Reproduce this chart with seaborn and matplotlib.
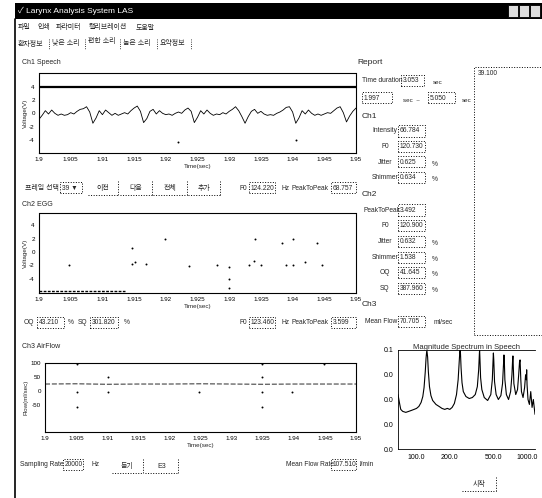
import matplotlib
matplotlib.use("Agg")
import matplotlib.pyplot as plt
import seaborn as sns
from matplotlib.patches import Rectangle
from matplotlib.lines import Line2D

W, H = 542, 498

# -------------------------
# Data
# -------------------------

time_ticks = [1.9, 1.905, 1.91, 1.915, 1.92, 1.925, 1.93, 1.935, 1.94, 1.945, 1.95]
time_tick_labels = ["1.9", "1.905", "1.91", "1.915", "1.92", "1.925", "1.93", "1.935", "1.94", "1.945", "1.95"]

# Ch1 speech, one sample every 0.5 ms from 1.900 to 1.950 s
ch1_speech = [
    -0.9, -0.3, 0.4, -0.1, 0.5, 0.0, -0.3, -0.1, -0.3, -0.2,
    0.1, -0.1, 0.3, 0.6, 0.7, 1.0, 0.2, -1.5, -0.7, 0.4,
    -0.2, 0.5, 0.1, -0.3, 0.0, -0.3, -0.1, 0.1, -0.1, 0.4,
    0.8, 1.1, 0.3, -1.4, -0.8, 0.3, 0.6, -0.1, 0.4, 0.0,
    -0.2, -0.1, -0.3, 0.0, 0.2, 0.0, 0.5, 0.8, 0.3, -1.4,
    -0.6, 0.4, -0.1, 0.5, 0.0, -0.3, -0.1, -0.2, 0.1, -0.1,
    0.3, 0.6, 1.0, 0.4, -0.5, -1.5, -0.5, 0.3, 0.6, 0.0,
    0.3, -0.1, -0.3, -0.2, -0.3, 0.0, 0.2, 0.5, 0.9, 1.0,
    0.2, -1.5, -0.7, 0.4, -0.1, 0.5, 0.0, -0.3, -0.1, -0.3,
    -0.1, 0.1, 0.0, 0.4, 0.8, 1.0, 0.1, -1.3, -0.4, 0.3,
    0.8,
]
ch1_time = [1.9 + 0.0005 * i for i in range(len(ch1_speech))]
ch1_level = 4.0
ch1_dot_t = [1.922, 1.9405]
ch1_dot_v = [-4.3, -4.0]

# Ch2 EGG: only scattered samples are visible
ch2_t = [1.9047, 1.9147, 1.9147, 1.9152, 1.9169, 1.9199, 1.9237, 1.9280, 1.9300, 1.9300,
         1.9300, 1.9331, 1.9339, 1.9341, 1.9350, 1.9383, 1.9390, 1.9400, 1.9400, 1.9420,
         1.9439, 1.9447]
ch2_v = [-2.0, 0.6, -1.8, -1.5, -1.8, 2.0, -2.1, -2.0, -2.2, -4.0,
         -5.3, -2.0, -1.4, 2.0, -2.0, 1.4, -2.0, -2.0, 2.0, -1.5,
         1.3, -2.0]
ch2_edge_t = [1.900, 1.9135]
ch2_edge_v = [-5.8, -5.8]

# Ch3 air flow
ch3_t = [1.900, 1.905, 1.910, 1.915, 1.920, 1.925, 1.930, 1.935, 1.940, 1.945, 1.950]
ch3_flow = [25, 26, 24, 25, 25, 26, 25, 24, 25, 25, 25]
ch3_dot_t = [1.9051, 1.9101, 1.9051, 1.9101, 1.9248, 1.9349, 1.9349, 1.9349, 1.9397, 1.9449, 1.9051, 1.9349]
ch3_dot_v = [95, 50, -3, -3, -3, 95, 50, -3, -3, 95, -57, -57]

# magnitude spectrum
spec_freq = [68, 70, 72, 75, 80, 85, 90, 95, 100, 105, 110, 114, 117, 120, 122, 124, 126, 128, 131, 135,
             140, 150, 160, 170, 180, 190, 200, 210, 220, 230, 238, 243, 246, 248, 250, 253, 258, 265, 280, 300,
             320, 340, 355, 365, 370, 372, 374, 380, 390, 410, 440, 470, 485, 492, 496, 500, 508, 525, 550, 580,
             600, 612, 618, 622, 630, 650, 680, 710, 730, 740, 745, 750, 760, 790, 820, 840, 855, 865, 870, 878,
             890, 920, 950, 970, 985, 992, 1000, 1020, 1050, 1080, 1110, 1140, 1180]
spec_mag = [0.055, 0.047, 0.040, 0.038, 0.037, 0.038, 0.039, 0.040, 0.041, 0.043, 0.047, 0.053, 0.062, 0.078, 0.092, 0.100, 0.093, 0.078, 0.063, 0.054,
            0.049, 0.045, 0.043, 0.041, 0.040, 0.041, 0.040, 0.042, 0.046, 0.055, 0.070, 0.087, 0.097, 0.100, 0.096, 0.082, 0.067, 0.058, 0.053, 0.051,
            0.052, 0.055, 0.063, 0.080, 0.095, 0.100, 0.094, 0.072, 0.060, 0.052, 0.049, 0.055, 0.070, 0.088, 0.097, 0.090, 0.068, 0.055, 0.050, 0.054,
            0.066, 0.085, 0.095, 0.092, 0.070, 0.055, 0.050, 0.058, 0.075, 0.090, 0.094, 0.085, 0.066, 0.055, 0.060, 0.075, 0.088, 0.090, 0.082, 0.070,
            0.058, 0.052, 0.062, 0.075, 0.070, 0.080, 0.065, 0.050, 0.045, 0.058, 0.042, 0.050, 0.035]
spec_xticks = [100, 200, 500, 1000]
spec_xlabels = ["100.0", "200.0", "500.0", "1000.0"]
spec_yticks = [0.0, 0.025, 0.05, 0.075, 0.1]
spec_ylabels = ["0.0", "0.0", "0.0", "0.0", "0.1"]

menu_items = ["파일", "인쇄", "파라미터", "캘리브레이션", "도움말"]
menu_x = [18, 37, 56, 89, 136]
tab_items = ["환자정보", "낮은 소리", "편한 소리", "높은 소리", "요약정보"]
tab_x = [18, 52, 88, 123, 160]
tab_sep_x = [49, 85, 120, 157, 191]

ch1_labels = ["Intensity", "F0", "Jitter", "Shimmer"]
ch1_values = ["66.784", "120.730", "0.625", "0.634"]
ch1_units = ["", "", "%", "%"]
ch2_labels = ["PeakToPeak", "F0", "Jitter", "Shimmer", "OQ", "SQ"]
ch2_values = ["3.492", "120.900", "0.632", "1.538", "41.645", "387.960"]
ch2_units = ["", "", "%", "%", "%", "%"]


sns.set_style("white")
plt.rcParams['font.family'] = ['Liberation Sans', 'Noto Sans CJK KR']
plt.rcParams['axes.unicode_minus'] = False

fig = plt.figure(figsize=(W / 100, H / 100), dpi=100)


def box_axes(x0, y0, x1, y1):
    return fig.add_axes([x0 / W, 1 - y1 / H, (x1 - x0) / W, (y1 - y0) / H])


def txt(x, y, s, size=5, ha='left', **kw):
    fig.text(x / W, 1 - y / H, s, fontsize=size, ha=ha, va='center', **kw)


def rect(x0, y0, x1, y1, ls=':', lw=0.7, fc=None, ec='black'):
    fig.add_artist(Rectangle((x0 / W, 1 - y1 / H), (x1 - x0) / W, (y1 - y0) / H,
                             transform=fig.transFigure, fill=fc is not None,
                             facecolor=fc if fc else 'none', edgecolor=ec, ls=ls, lw=lw))


def seg(x0, y0, x1, y1, **kw):
    fig.add_artist(Line2D([x0 / W, x1 / W], [1 - y0 / H, 1 - y1 / H], transform=fig.transFigure, **kw))


def field(x0, x1, y, s, size=4.8):
    rect(x0, y - 5.5, x1, y + 5.5)
    txt(x0 + 1.5, y, s, size)


def button(x0, x1, y, s):
    txt((x0 + x1) / 2, y, s, size=5, ha='center')
    seg(x0, y + 7, x1, y + 7, color='black', lw=0.7, ls=':')
    seg(x1, y - 7, x1, y + 7, color='black', lw=0.7, ls=':')


def style_channel(ax, ylim, yticks, ylabel):
    ax.set_xlim(1.9, 1.95)
    ax.set_ylim(*ylim)
    ax.set_xticks(time_ticks)
    ax.set_xticklabels(time_tick_labels, fontsize=4.5)
    ax.set_yticks(yticks)
    ax.set_yticklabels([str(v) for v in yticks], fontsize=4.5)
    ax.set_xlabel("Time(sec)", fontsize=4.5, labelpad=1)
    ax.set_ylabel(ylabel, fontsize=4.5, labelpad=1)
    for sp in ax.spines.values():
        sp.set_linestyle((0, (2, 1)))
        sp.set_linewidth(0.8)
        sp.set_color('black')
    ax.tick_params(length=2, width=0.5, pad=1, direction='out', colors='black')


# -------------------------
# Window frame
# -------------------------

rect(15, 3, 542, 19, ls='-', lw=0, fc='black')
txt(18, 11, "\u2713 Larynx Analysis System LAS", size=6, color='white')
for bx in [508, 519, 530]:
    rect(bx, 5, bx + 10, 17, ls='-', lw=0.6, fc='#dddddd')
seg(15, 19, 15, 498, color='black', lw=1.2)

for x, item in zip(menu_x, menu_items):
    txt(x, 28, item, size=5)

for x, item in zip(tab_x, tab_items):
    txt(x, 44 if item != "편한 소리" else 42, item, size=5)
for x in tab_sep_x:
    seg(x, 39, x, 49, color='black', lw=0.6, ls=':')

# -------------------------
# Ch1 Speech
# -------------------------

txt(22, 62, "Ch1 Speech", size=5)
ax1 = box_axes(39, 73, 356, 153)
sns.lineplot(x=ch1_time, y=ch1_speech, ax=ax1, color='black', lw=0.6)
ax1.axhline(ch1_level, color='black', lw=1.6)
sns.scatterplot(x=ch1_dot_t, y=ch1_dot_v, ax=ax1, s=2, color='black', linewidth=0)
style_channel(ax1, (-6, 6.1), [-4, -2, 0, 2, 4], "Voltage(V)")

txt(25, 188, "프레임 선택", size=5)
rect(60, 182, 82, 193)
txt(62, 188, "39 \u25bc", size=4.8)
button(88, 118, 188, "이전")
button(120, 152, 188, "다음")
button(153, 187, 188, "전체")
button(188, 220, 188, "추가")
txt(240, 188, "F0", size=4.8)
field(249, 275, 188, "124.220")
txt(282, 188, "Hz", size=4.8)
txt(292, 188, "PeakToPeak", size=4.8)
field(331, 356, 188, "68.757")

# -------------------------
# Ch2 EGG
# -------------------------

txt(22, 204, "Ch2 EGG", size=5)
ax2 = box_axes(39, 213, 356, 293)
sns.scatterplot(x=ch2_t, y=ch2_v, ax=ax2, s=2, color='black', linewidth=0)
sns.lineplot(x=ch2_edge_t, y=ch2_edge_v, ax=ax2, color='black', lw=1.0, ls=(0, (2, 1)))
style_channel(ax2, (-6.1, 5.8), [-4, -2, 0, 2, 4], "Voltage(V)")

txt(24, 322, "OQ", size=4.8)
field(37, 64, 322, "43.210")
txt(68, 322, "%", size=4.8)
txt(78, 322, "SQ", size=4.8)
field(90, 118, 322, "301.820")
txt(124, 322, "%", size=4.8)
txt(240, 322, "F0", size=4.8)
field(249, 275, 322, "123.460")
txt(282, 322, "Hz", size=4.8)
txt(292, 322, "PeakToPeak", size=4.8)
field(331, 356, 322, "3.599")

# -------------------------
# Ch3 AirFlow
# -------------------------

txt(22, 346, "Ch3 AirFlow", size=5)
ax3 = box_axes(45, 363, 356, 432)
sns.lineplot(x=ch3_t, y=ch3_flow, ax=ax3, color='0.35', lw=0.9, ls=(0, (4, 1.5)))
sns.scatterplot(x=ch3_dot_t, y=ch3_dot_v, ax=ax3, s=2, color='black', linewidth=0)
style_channel(ax3, (-146, 100), [-50, 0, 50, 100], "Flow(ml/sec)")

txt(20, 464, "Sampling Rate", size=4.8)
field(63, 83, 464, "20000")
txt(92, 464, "Hz", size=4.8)
button(112, 143, 466, "듣기")
button(145, 178, 466, "E3")
txt(286, 464, "Mean Flow Rate", size=4.8)
field(331, 356, 464, "107.510")
txt(359, 464, "l/min", size=4.8)
button(462, 496, 484, "시작")

# -------------------------
# Report panel
# -------------------------

txt(357, 62, "Report", size=6)
txt(362, 81, "Time duration", size=4.8)
field(401, 424, 81, "3.053")
txt(433, 83, "sec", size=4.5)
field(362, 392, 98, "1.997")
txt(403, 100, "sec  ~", size=4.5)
field(428, 455, 98, "5.050")
txt(462, 100, "sec", size=4.5)
rect(474, 67, 545, 335)
txt(478, 73, "39.100", size=4.8)

txt(362, 116, "Ch1", size=6)
for i, (lab, val, unit) in enumerate(zip(ch1_labels, ch1_values, ch1_units)):
    y = 131 + 15.5 * i
    txt(385, y, lab, size=4.8, ha='center')
    field(398, 425, y, val)
    if unit:
        txt(432, y + 2, unit, size=4.8)

txt(362, 195, "Ch2", size=6)
for i, (lab, val, unit) in enumerate(zip(ch2_labels, ch2_values, ch2_units)):
    y = 210 + 15.7 * i
    txt(382 if lab == "PeakToPeak" else 385, y, lab, size=4.8, ha='center')
    field(398, 425, y, val)
    if unit:
        txt(432, y + 2, unit, size=4.8)

txt(362, 305, "Ch3", size=6)
txt(381, 321, "Mean Flow", size=4.8, ha='center')
field(398, 425, 321, "70.705")
txt(434, 322, "ml/sec", size=4.8)

# -------------------------
# Magnitude spectrum
# -------------------------

ax4 = box_axes(398, 350, 535, 449)
sns.lineplot(x=spec_freq, y=spec_mag, ax=ax4, color='black', lw=0.8)
ax4.set_xscale('log')
ax4.set_xlim(68, 1180)
ax4.set_ylim(0, 0.1)
ax4.set_xticks(spec_xticks)
ax4.set_xticklabels(spec_xlabels, fontsize=5)
ax4.set_yticks(spec_yticks)
ax4.set_yticklabels(spec_ylabels, fontsize=5)
ax4.set_xlabel("")
ax4.set_ylabel("")
ax4.set_title("Magnitude Spectrum in Speech", fontsize=5.5, pad=1)
ax4.spines['right'].set_visible(False)
for name in ['left', 'bottom', 'top']:
    ax4.spines[name].set_linewidth(0.6)
    ax4.spines[name].set_color('black')
ax4.tick_params(axis='both', which='major', length=2.5, width=0.5, pad=1, direction='out', colors='black')
ax4.tick_params(axis='x', which='minor', length=1.5, width=0.5, direction='out', colors='black')
ax4.minorticks_on()
ax4.tick_params(axis='y', which='minor', length=0)

fig.savefig("out.png", dpi=100)
